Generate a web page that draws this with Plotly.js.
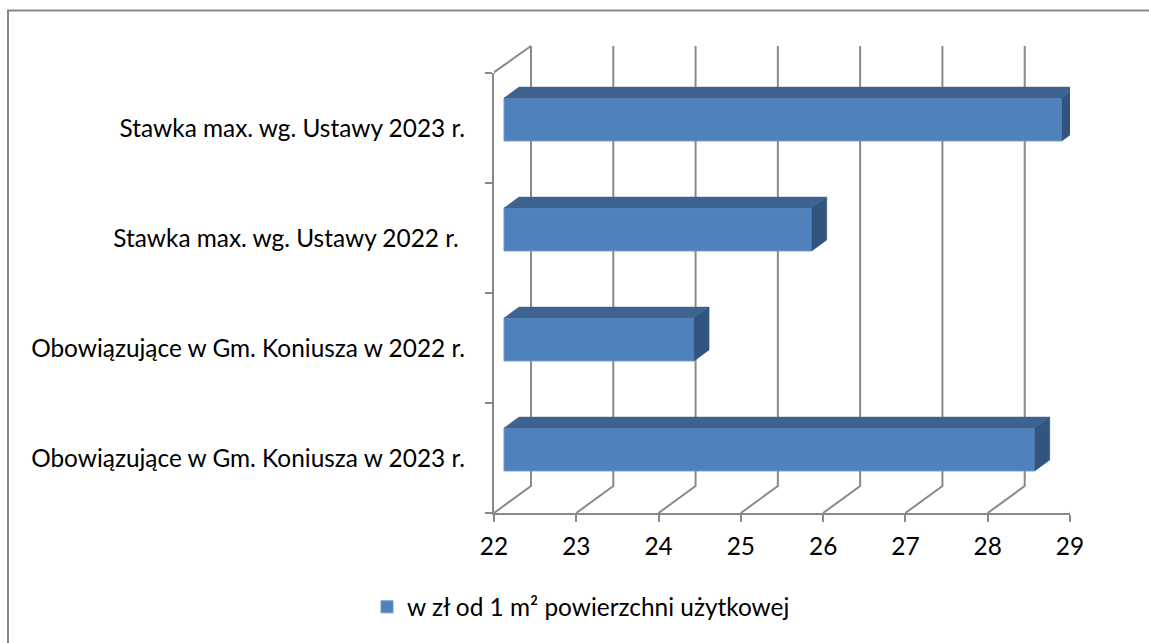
<!DOCTYPE html>
<html>
<head>
<meta charset="utf-8">
<script src="https://cdn.plot.ly/plotly-3.0.1.min.js"></script>
<style>html,body{margin:0;padding:0;background:#fff;}</style>
</head>
<body>
<div id="chart" style="width:1149px;height:643px;"></div>
<script>
// ---- data ----
const categories = [
  "Obowiązujące w Gm. Koniusza w 2023 r.",
  "Obowiązujące w Gm. Koniusza w 2022 r.",
  "Stawka max. wg. Ustawy 2022 r.\u00a0",
  "Stawka max. wg. Ustawy 2023 r."
];
const values = [28.45, 24.31, 25.74, 28.78];
const seriesName = "w zł od 1 m² powierzchni użytkowej";
const xTicks = [22, 23, 24, 25, 26, 27, 28, 29];

// ---- style / geometry ----
const W = 1149, H = 643;
const M = {l: 494, r: 79, t: 73, b: 130};
const plotW = W - M.l - M.r, plotH = H - M.t - M.b;
const xMin = 22, xMax = 29;
const pxPerX = plotW / (xMax - xMin);
const pxPerY = plotH / categories.length;
const FRONT_DX = 10, FRONT_DY = 8.5;   // bar plane offset (px)
const BAR_DX = 15, BAR_DY = 11;        // bar depth (px)
const WALL_DX = 37, WALL_DY = 27;      // chart depth (px)
const BAR_W = 0.39;
const FONT = "Lato, 'Open Sans', sans-serif";
const FS = 24.4;
const GRID = "#898989";
const C_FRONT = "#4f81bd", C_TOP = "#3e6391", C_SIDE = "#32547e";

const yIdx = categories.map((c, i) => i);
const bdx = BAR_DX / pxPerX, bdy = BAR_DY / pxPerY;

// top faces & side faces, in bar-plane data units
const topX = [], topY = [], sideX = [], sideY = [];
values.forEach((v, i) => {
  const t = i + BAR_W / 2, b = i - BAR_W / 2;
  topX.push(xMin, v, v + bdx, xMin + bdx, xMin, null);
  topY.push(t, t, t + bdy, t + bdy, t, null);
  sideX.push(v, v + bdx, v + bdx, v, v, null);
  sideY.push(t, t + bdy, b + bdy, b, t, null);
});

const traces = [
  {
    type: "bar", orientation: "h", name: seriesName,
    x: values.map(v => v - xMin), base: xMin, y: yIdx,
    xaxis: "x2", yaxis: "y2", width: BAR_W,
    marker: {color: C_FRONT, line: {color: "#7097c9", width: 1}},
    hoverinfo: "skip"
  },
  {
    type: "scatter", mode: "lines", x: topX, y: topY, xaxis: "x2", yaxis: "y2",
    fill: "toself", fillcolor: C_TOP, line: {color: C_TOP, width: 0.5},
    showlegend: false, hoverinfo: "skip"
  },
  {
    type: "scatter", mode: "lines", x: sideX, y: sideY, xaxis: "x2", yaxis: "y2",
    fill: "toself", fillcolor: C_SIDE, line: {color: C_SIDE, width: 0.5},
    showlegend: false, hoverinfo: "skip"
  }
];

// 3D floor/back gridlines anchored at each x tick
const shapes = xTicks.map(t => ({
  type: "path", layer: "below",
  xref: "x", xsizemode: "pixel", xanchor: t,
  yref: "paper", ysizemode: "pixel", yanchor: 0,
  path: `M0,0 L${WALL_DX},${WALL_DY} L${WALL_DX},${plotH + WALL_DY}`,
  line: {color: GRID, width: 2}
}));
// left wall top edge
shapes.push({
  type: "path", layer: "below",
  xref: "x", xsizemode: "pixel", xanchor: xMin,
  yref: "paper", ysizemode: "pixel", yanchor: 1,
  path: `M-1,0 L${WALL_DX},${WALL_DY}`,
  line: {color: GRID, width: 2}
});
// chart frame
shapes.push({
  type: "path", layer: "below", xref: "paper", yref: "paper",
  path: `M${(8 - M.l) / plotW},${(M.t + plotH - 660) / plotH} L${(8 - M.l) / plotW},${(M.t + plotH - 10.5) / plotH} L${(1170 - M.l) / plotW},${(M.t + plotH - 10.5) / plotH}`,
  line: {color: "#878787", width: 2}
});

const xShift = FRONT_DX / pxPerX, yShift = FRONT_DY / pxPerY;
const layout = {
  width: W, height: H, margin: M,
  paper_bgcolor: "#fff", plot_bgcolor: "rgba(0,0,0,0)",
  font: {family: FONT, size: FS, color: "#000"},
  showlegend: true,
  xaxis: {
    range: [xMin, xMax], tickvals: xTicks, showgrid: false, zeroline: false,
    showline: true, linecolor: GRID, linewidth: 2,
    ticks: "outside", ticklen: 7, tickwidth: 2, tickcolor: GRID,
    tickfont: {family: FONT, size: FS, color: "#000"}, ticklabelstandoff: 4
  },
  yaxis: {
    range: [-0.5, categories.length - 0.5], tickvals: yIdx, ticktext: categories,
    showgrid: false, zeroline: false, showline: true, linecolor: GRID, linewidth: 2,
    ticks: "",
    minor: {tick0: -0.5, dtick: 1, ticks: "outside", ticklen: 7, tickwidth: 2, tickcolor: GRID, showgrid: false},
    tickfont: {family: FONT, size: FS, color: "#000"}, ticklabelstandoff: 22
  },
  xaxis2: {overlaying: "x", anchor: "y2", range: [xMin - xShift, xMax - xShift], visible: false},
  yaxis2: {overlaying: "y", anchor: "x2", range: [-0.5 - yShift, categories.length - 0.5 - yShift], visible: false},
  legend: {
    orientation: "h", xanchor: "left", yanchor: "middle",
    x: (367 - M.l) / plotW, y: (M.t + plotH - 607) / plotH,
    bgcolor: "rgba(0,0,0,0)", font: {family: FONT, size: FS, color: "#000"}
  },
  shapes: shapes
};

Plotly.newPlot("chart", traces, layout, {displayModeBar: false, staticPlot: true});
</script>
</body>
</html>
